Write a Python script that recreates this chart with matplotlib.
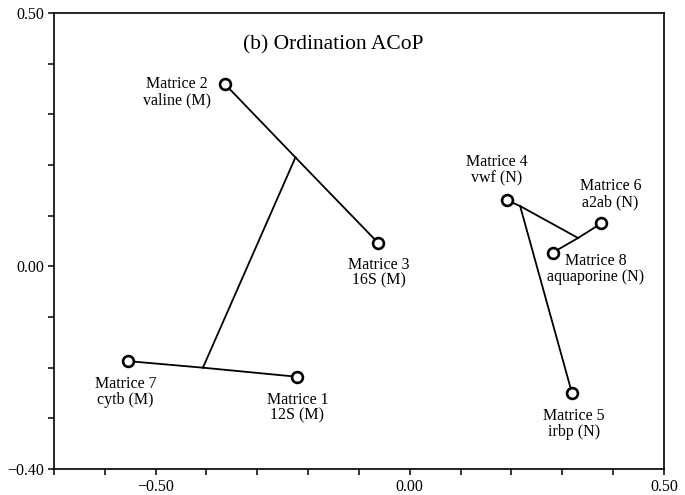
import matplotlib
matplotlib.use("Agg")
import matplotlib.pyplot as plt
import numpy as np

# --- données : positions des matrices (ordination ACoP) ---
noms = ["Matrice 1\n12S (M)", "Matrice 2\nvaline (M)", "Matrice 3\n16S (M)",
        "Matrice 4\nvwf (N)", "Matrice 5\nirbp (N)", "Matrice 6\na2ab (N)",
        "Matrice 7\ncytb (M)", "Matrice 8\naquaporine (N)"]
x_mat = np.array([-0.221, -0.364, -0.063, 0.192, 0.319, 0.377, -0.555, 0.281])
y_mat = np.array([-0.218, 0.360, 0.047, 0.130, -0.250, 0.085, -0.187, 0.027])

# noeuds internes de l'arbre
x_noeud = np.array([-0.225, -0.407, 0.217, 0.331])
y_noeud = np.array([0.215, -0.200, 0.119, 0.056])

# branches : (matrice ou noeud) -> noeud ; 'm' = matrice, 'n' = noeud
branches = [("m", 1, "n", 0), ("m", 2, "n", 0), ("n", 0, "n", 1),
            ("m", 6, "n", 1), ("m", 0, "n", 1),
            ("m", 3, "n", 2), ("n", 2, "n", 3), ("m", 4, "n", 2),
            ("m", 7, "n", 3), ("m", 5, "n", 3)]

# décalage des étiquettes (pixels)
decal = [(0, -31), (-48, -8), (1, -30), (-11, 30), (2, -31), (9, 29), (-2, -31), (43, -16)]

plt.rcParams['font.family'] = ['Liberation Serif', 'DejaVu Serif']

fig = plt.figure(figsize=(6.85, 4.95), dpi=100)
ax = fig.add_axes([0.0788, 0.0525, 0.8905, 0.9212])

def coord(t, i):
    if t == "m":
        return x_mat[i], y_mat[i]
    return x_noeud[i], y_noeud[i]

for t1, i1, t2, i2 in branches:
    xa, ya = coord(t1, i1)
    xb, yb = coord(t2, i2)
    ax.plot([xa, xb], [ya, yb], color='black', lw=1.3, zorder=2)

ax.plot(x_mat, y_mat, 'o', ms=7.8, mfc='white', mec='black', mew=1.9,
        ls='none', zorder=3)

for i, nom in enumerate(noms):
    ax.annotate(nom, (x_mat[i], y_mat[i]), xytext=decal[i],
                textcoords='offset pixels', ha='center', va='center',
                fontsize=11.5, linespacing=1.0)

ax.text(-0.328, 0.438, "(b) Ordination ACoP", fontsize=15.5,
        ha='left', va='center')

ax.set_xlim(-0.7, 0.5)
ax.set_ylim(-0.4, 0.5)

xt = np.round(np.arange(-0.7, 0.51, 0.1), 2)
yt = np.round(np.arange(-0.4, 0.51, 0.1), 2)
ax.set_xticks(xt)
ax.set_yticks(yt)
ax.set_xticklabels(["\u22120.50" if v == -0.5 else "0.00" if v == 0 else "0.50" if v == 0.5 else ""
                    for v in xt])
ax.set_yticklabels(["\u22120.40" if v == -0.4 else "0.00" if v == 0 else "0.50" if v == 0.5 else ""
                    for v in yt])
ax.tick_params(direction='out', length=4, width=1.1, labelsize=11.5, pad=3)
for s in ax.spines.values():
    s.set_linewidth(1.2)

fig.savefig("out.png", dpi=100)
